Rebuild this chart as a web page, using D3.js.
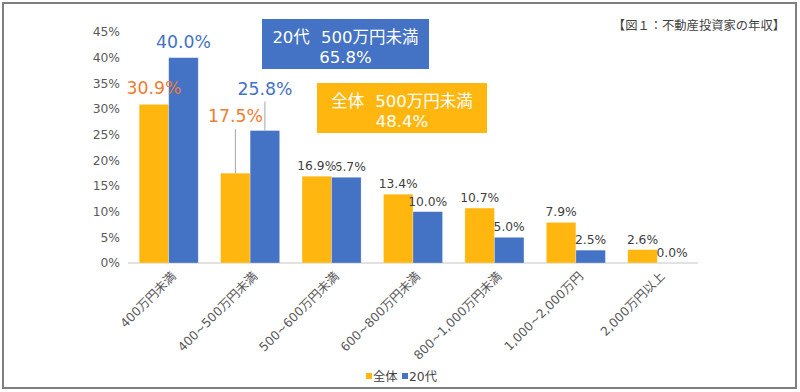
<!DOCTYPE html>
<html><head><meta charset="utf-8">
<script src="https://cdn.jsdelivr.net/npm/d3@7"></script>
<style>
html,body{margin:0;padding:0;background:#fff;}
text{font-family:"DejaVu Sans","Noto Sans CJK JP",sans-serif;}
</style></head>
<body>
<svg id="c" width="800" height="392"></svg>
<script>
const categories = ["400万円未満","400~500万円未満","500~600万円未満","600~800万円未満","800~1,000万円未満","1,000~2,000万円","2,000万円以上"];
const seriesNames = ["全体","20代"];
const allValues = [30.9, 17.5, 16.9, 13.4, 10.7, 7.9, 2.6];
const twentiesValues = [40.0, 25.8, 16.7, 10.0, 5.0, 2.5, 0.0];
const yTicks = [0,5,10,15,20,25,30,35,40,45];
const title = "【図１：不動産投資家の年収】";
const box20 = [["20代"," 500万円未満"],["65.8%"]];
const boxAll = [["全体"," 500万円未満"],["48.4%"]];

const colors = {all:"#FFB60F", twenties:"#4472C4", labelOrange:"#ED7D31", labelBlue:"#4472C4", text:"#404040", tick:"#595959"};
// highlighted labels (moved in the original): index -> pixel offset above bar top
const bigAll = {0:10, 1:51};
const bigTw = {0:10, 1:36};

const svg = d3.select("#c");
svg.append("rect").attr("x",3).attr("y",3).attr("width",793).attr("height",385)
  .attr("fill","#fff").attr("stroke","#7f7f7f").attr("stroke-width",2);

const margin = {left:128, right:102, top:32, bottom:129};
const W=800, H=392;
const x = d3.scaleBand().domain(categories).range([margin.left, W-margin.right]).paddingInner(0.275).paddingOuter(0.1375);
const x1 = d3.scaleBand().domain(seriesNames).range([0, x.bandwidth()]);
const y = d3.scaleLinear().domain([0,45]).range([H-margin.bottom, H-margin.bottom-231]);

// y axis labels
const yAxis = d3.axisLeft(y).tickValues(yTicks).tickFormat(d=>d+"%").tickSize(0).tickPadding(8);
const ya = svg.append("g").attr("transform",`translate(${margin.left},0)`).call(yAxis);
ya.select(".domain").remove();
ya.selectAll("text").attr("fill",colors.tick).style("font-size","12.3px").style("font-family",'"DejaVu Sans","Noto Sans CJK JP",sans-serif');

// baseline
svg.append("line").attr("x1",margin.left).attr("x2",W-margin.right).attr("y1",y(0)).attr("y2",y(0))
  .attr("stroke","#d9d9d9").attr("stroke-width",1.5);

const rows = categories.map((c,i)=>({c, a:allValues[i], t:twentiesValues[i], i}));
const g = svg.append("g");
g.selectAll("rect.a").data(rows).join("rect").attr("class","a")
  .attr("x",d=>x(d.c)+x1("全体")).attr("width",x1.bandwidth())
  .attr("y",d=>y(d.a)).attr("height",d=>y(0)-y(d.a)).attr("fill",colors.all)
  .attr("stroke","#ffffff").attr("stroke-opacity",0.35).attr("stroke-width",0.75);
g.selectAll("rect.t").data(rows).join("rect").attr("class","t")
  .attr("x",d=>x(d.c)+x1("20代")).attr("width",x1.bandwidth())
  .attr("y",d=>y(d.t)).attr("height",d=>y(0)-y(d.t)).attr("fill",colors.twenties)
  .attr("stroke","#ffffff").attr("stroke-opacity",0.35).attr("stroke-width",0.75);

const cxA = d=>x(d.c)+x1("全体")+x1.bandwidth()/2;
const cxT = d=>x(d.c)+x1("20代")+x1.bandwidth()/2;

// leader lines for index 1
[1].forEach(i=>{
  const d=rows[i];
  svg.append("line").attr("x1",cxA(d)).attr("x2",cxA(d)).attr("y1",y(d.a)).attr("y2",y(d.a)-bigAll[i]+7)
    .attr("stroke","#a6a6a6").attr("stroke-width",1);
  svg.append("line").attr("x1",cxT(d)).attr("x2",cxT(d)).attr("y1",y(d.t)).attr("y2",y(d.t)-bigTw[i]+7)
    .attr("stroke","#a6a6a6").attr("stroke-width",1);
});

// small labels: 20代 first then 全体 (全体 drawn on top)
rows.forEach(d=>{
  if(bigTw[d.i]===undefined){
    svg.append("text").attr("x",cxT(d)).attr("y",y(d.t)-6).attr("text-anchor","middle")
      .attr("fill",colors.text).style("font-size","12.3px").text(d.t.toFixed(1)+"%");
  }
});
rows.forEach(d=>{
  if(bigAll[d.i]===undefined){
    svg.append("text").attr("x",cxA(d)).attr("y",y(d.a)-6).attr("text-anchor","middle")
      .attr("fill",colors.text).style("font-size","12.3px")
      .attr("stroke","#fff").attr("stroke-width",2.5).attr("paint-order","stroke")
      .text(d.a.toFixed(1)+"%");
  }
});
rows.forEach(d=>{
  if(bigAll[d.i]!==undefined){
    svg.append("text").attr("x",cxA(d)).attr("y",y(d.a)-bigAll[d.i]).attr("text-anchor","middle")
      .attr("fill",colors.labelOrange).style("font-size","17.3px").text(d.a.toFixed(1)+"%");
  }
  if(bigTw[d.i]!==undefined){
    svg.append("text").attr("x",cxT(d)).attr("y",y(d.t)-bigTw[d.i]).attr("text-anchor","middle")
      .attr("fill",colors.labelBlue).style("font-size","17.3px").text(d.t.toFixed(1)+"%");
  }
});

// x labels
svg.append("g").selectAll("text").data(categories).join("text")
  .attr("transform",d=>`translate(${x(d)+x.bandwidth()/2+5},${y(0)+11}) rotate(-45)`)
  .attr("text-anchor","end").attr("dy","0.35em")
  .attr("fill",colors.tick).style("font-size","12.3px").text(d=>d);

// boxes
function box(x0,y0,w,h,fill,lines){
  svg.append("rect").attr("x",x0).attr("y",y0).attr("width",w).attr("height",h).attr("fill",fill);
  lines.forEach((parts,k)=>{
    const t = svg.append("text").attr("x",x0+w/2).attr("y",y0+24+k*20).attr("text-anchor","middle")
      .attr("fill","#fff").style("font-size","16.5px");
    parts.forEach((p,j)=>{
      t.append("tspan").attr("dx", j>0 ? 6 : 0).text(p);
    });
  });
}
box(262,19,167,50,colors.twenties,box20);
box(317,83,170,50,colors.all,boxAll);

// title
svg.append("text").attr("x",785).attr("y",30).attr("text-anchor","end").attr("fill","#404040")
  .style("font-size","12.3px").text(title);

// legend
const leg = svg.append("g");
const items=[{n:seriesNames[0],c:colors.all,x:366},{n:seriesNames[1],c:colors.twenties,x:402}];
items.forEach(it=>{
  leg.append("rect").attr("x",it.x).attr("y",373).attr("width",6).attr("height",6).attr("fill",it.c);
  leg.append("text").attr("x",it.x+7).attr("y",381).attr("fill","#404040").style("font-size","12.3px").text(it.n);
});
</script>
</body></html>
